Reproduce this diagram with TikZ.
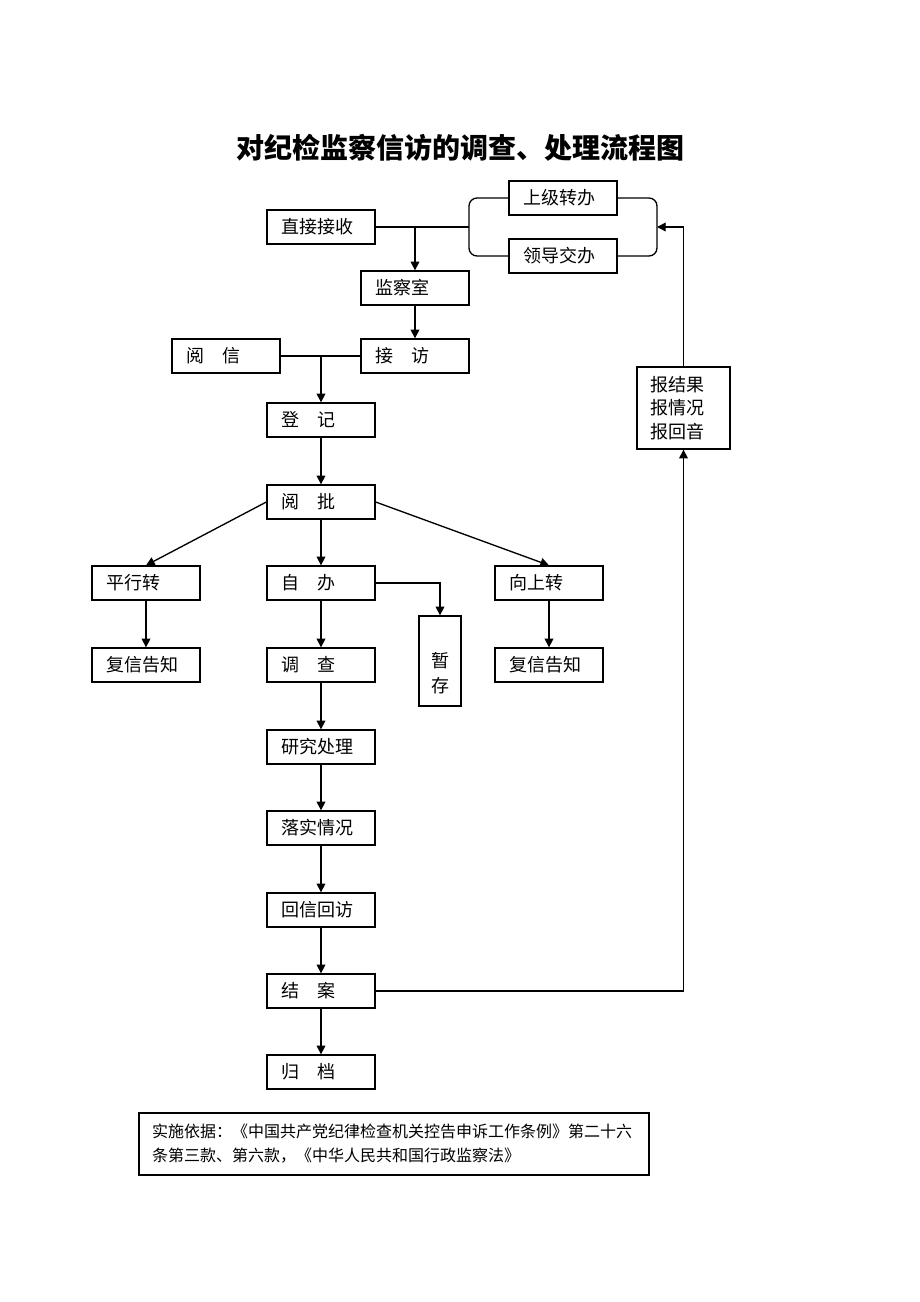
\documentclass[tikz,border=0pt]{standalone}
\usepackage{fontspec}
\setmainfont{Noto Sans CJK SC}
\usetikzlibrary{arrows.meta}

\tikzset{
  boite/.style={draw, line width=1pt, text width=60pt, inner xsep=10.5pt, inner ysep=0pt,
    minimum height=25.5pt, align=left, font=\fontsize{13.5}{16}\selectfont},
  fleche/.style={-{Triangle[length=6.5pt,width=6.5pt]}, line width=1pt},
  trait/.style={line width=1pt}
}

\begin{document}
\begin{tikzpicture}[x=0.75pt,y=-0.75pt]
  \useasboundingbox[fill=white] (0,0) rectangle (920,1302);
  % Titre
  \node[font=\fontsize{21}{25}\selectfont\bfseries] (titre) at (460,148) {对纪检监察信访的调查、处理流程图};
  % Boites
  \node[boite] (zjjs) at (321,227) {直接接收};
  \node[boite] (sjzb) at (563,198) {上级转办};
  \node[boite] (ldjb) at (563,256) {领导交办};
  \coordinate (bl) at (469,227);
  \coordinate (br) at (657,227);
  \node[boite] (jcs) at (415,288) {监察室};
  \node[boite] (jf) at (415,356) {接\quad 访};
  \node[boite] (yx) at (226,356) {阅\quad 信};
  \node[boite] (dj) at (321,420) {登\quad 记};
  \node[boite] (yp) at (321,502) {阅\quad 批};
  \node[boite] (pxz) at (146,583) {平行转};
  \node[boite] (zb) at (321,583) {自\quad 办};
  \node[boite] (xsz) at (549,583) {向上转};
  \node[draw, line width=1pt, text width=13.5pt, inner xsep=9pt, minimum height=67.5pt, align=center,
    font=\fontsize{13.5}{18.75}\selectfont] (zc) at (440,661) {\rule{0pt}{11pt}\\暂\\存};
  \node[boite] (fx1) at (146,665) {复信告知};
  \node[boite] (dc) at (321,665) {调\quad 查};
  \node[boite] (fx2) at (549,665) {复信告知};
  \node[boite] (yjcl) at (321,747) {研究处理};
  \node[boite] (lsqk) at (321,828) {落实情况};
  \node[boite] (hxhf) at (321,910) {回信回访};
  \node[boite] (ja) at (321,991) {结\quad 案};
  \node[boite] (gd) at (321,1072) {归\quad 档};
  \node[boite, text width=50.25pt, inner xsep=9.75pt, minimum height=61.5pt,
    font=\fontsize{13.5}{17.6}\selectfont] (bjg) at (683.5,408) {报结果\\报情况\\报回音};
  \node[draw, line width=1pt, text width=363pt, inner xsep=9.75pt, minimum height=46.5pt, align=left,
    font=\fontsize{12}{18}\selectfont] (yiju) at (394,1144)
    {实施依据：《中国共产党纪律检查机关控告申诉工作条例》第二十六\\条第三款、第六款，《中华人民共和国行政监察法》};
  % Flèches
  \draw[trait, rounded corners=6pt] (sjzb.west) -| (bl) |- (ldjb.west);
  \draw[trait, rounded corners=6pt] (sjzb.east) -| (br) |- (ldjb.east);
  \draw[trait] (zjjs.east) -- (bl);
  \draw[fleche] (jcs.north |- zjjs.east) -- (jcs.north);
  \draw[fleche] (jcs) -- (jf);
  \draw[trait] (yx.east) -- (jf.west);
  \draw[fleche] (dj.north |- yx.east) -- (dj.north);
  \draw[fleche] (dj) -- (yp);
  \draw[fleche] (yp.west) -- (pxz.north);
  \draw[fleche] (yp) -- (zb);
  \draw[fleche] (yp.east) -- (xsz.north);
  \draw[fleche] (zb.east) -| (zc.north);
  \draw[fleche] (pxz) -- (fx1);
  \draw[fleche] (zb) -- (dc);
  \draw[fleche] (xsz) -- (fx2);
  \draw[fleche] (dc) -- (yjcl);
  \draw[fleche] (yjcl) -- (lsqk);
  \draw[fleche] (lsqk) -- (hxhf);
  \draw[fleche] (hxhf) -- (ja);
  \draw[fleche] (ja) -- (gd);
  \draw[fleche] (ja.east) -| (bjg.south);
  \draw[fleche] (bjg.north) |- (br);
\end{tikzpicture}
\end{document}
